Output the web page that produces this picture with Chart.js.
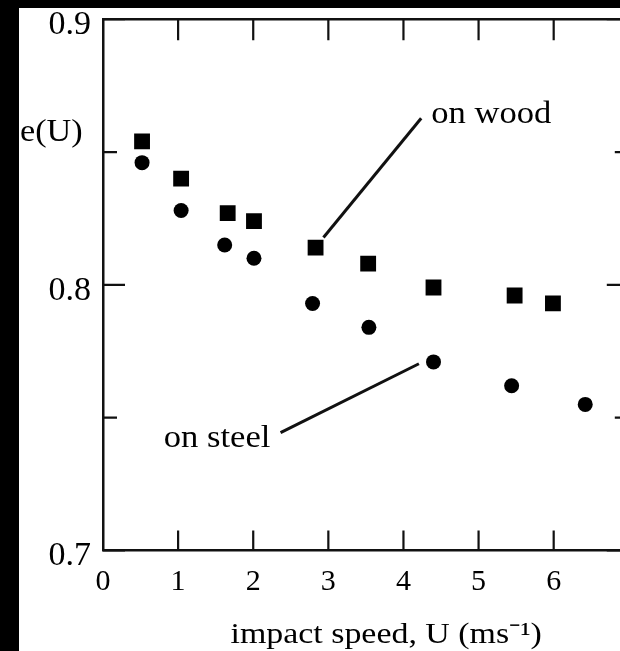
<!DOCTYPE html>
<html>
<head>
<meta charset="utf-8">
<script src="https://cdn.jsdelivr.net/npm/chart.js@4.4.1/dist/chart.umd.min.js"></script>
<style>
  html, body { margin: 0; padding: 0; background: #000; overflow: hidden; width: 620px; height: 651px; }
  #wrap { position: absolute; left: 19px; top: 8px; width: 621px; height: 643px; background: #fff; }
</style>
</head>
<body>
<div id="wrap"><canvas id="resChart" width="621" height="643"></canvas></div>
<script>
// coefficient of restitution vs impact speed
const speedWood = [0.52, 1.04, 1.66, 2.01, 2.83, 3.53, 4.40, 5.48, 5.99];
const eWood = [0.854, 0.840, 0.827, 0.824, 0.814, 0.808, 0.799, 0.796, 0.793];
const speedSteel = [0.52, 1.04, 1.62, 2.01, 2.79, 3.54, 4.40, 5.44, 6.42];
const eSteel = [0.846, 0.828, 0.815, 0.810, 0.793, 0.784, 0.771, 0.762, 0.755];

const xTicks = [0, 1, 2, 3, 4, 5, 6];
const yTicks = [0.7, 0.8, 0.9];
const yMinorTicks = [0.75, 0.85];

const xTitle = 'impact speed, U (ms\u207B\u00B9)';
const yTitle = 'e(U)';

// leader labels (data coords)
const notes = [
    { text: 'on wood', at: [4.37, 0.861], line: [[2.935, 0.8178], [4.236, 0.8627]] },
    { text: 'on steel', at: [0.81, 0.739], line: [[4.206, 0.7703], [2.364, 0.7444]] }
];

const serif = "'Liberation Serif', 'Times New Roman', serif";

// scanned figure text is a bit wider than plain Times
function wideText(ctx, text, x, y, sx) {
    ctx.save();
    ctx.translate(x, y);
    ctx.scale(sx, 1);
    ctx.fillText(text, 0, 0);
    ctx.restore();
}

const extras = {
    id: 'extras',
    afterDraw(chart) {
        const { ctx, chartArea: a, scales: { x, y } } = chart;
        ctx.save();
        ctx.strokeStyle = '#111';
        ctx.lineCap = 'butt';

        // top + right frame
        ctx.lineWidth = 2.5;
        ctx.beginPath();
        ctx.moveTo(a.left, a.top);
        ctx.lineTo(a.right, a.top);
        ctx.lineTo(a.right, a.bottom);
        ctx.stroke();

        // inward ticks
        ctx.lineWidth = 2.2;
        ctx.beginPath();
        xTicks.slice(1).forEach(v => {
            const px = x.getPixelForValue(v);
            ctx.moveTo(px, a.bottom); ctx.lineTo(px, a.bottom - 20);
            ctx.moveTo(px, a.top); ctx.lineTo(px, a.top + 21);
        });
        yTicks.forEach(v => {
            const py = y.getPixelForValue(v);
            ctx.moveTo(a.left, py); ctx.lineTo(a.left + 22, py);
            ctx.moveTo(a.right, py); ctx.lineTo(a.right - 22, py);
        });
        yMinorTicks.forEach(v => {
            const py = y.getPixelForValue(v);
            ctx.moveTo(a.left, py); ctx.lineTo(a.left + 14, py);
            ctx.moveTo(a.right, py); ctx.lineTo(a.right - 14, py);
        });
        ctx.stroke();

        // leader lines + labels
        ctx.lineWidth = 3;
        ctx.fillStyle = '#000';
        ctx.font = '32px ' + serif;
        ctx.textBaseline = 'alphabetic';
        ctx.textAlign = 'left';
        notes.forEach(n => {
            ctx.beginPath();
            ctx.moveTo(x.getPixelForValue(n.line[0][0]), y.getPixelForValue(n.line[0][1]));
            ctx.lineTo(x.getPixelForValue(n.line[1][0]), y.getPixelForValue(n.line[1][1]));
            ctx.stroke();
            wideText(ctx, n.text, x.getPixelForValue(n.at[0]), y.getPixelForValue(n.at[1]), 1.08);
        });

        // axis titles
        ctx.font = '30px ' + serif;
        ctx.textAlign = 'center';
        wideText(ctx, xTitle, x.getPixelForValue(3.77), 635, 1.13);
        ctx.textAlign = 'left';
        ctx.font = '32px ' + serif;
        wideText(ctx, yTitle, 1, 133, 1.07);
        ctx.restore();
    }
};

document.addEventListener('DOMContentLoaded', () => {
    const ctx = document.getElementById('resChart');
    new Chart(ctx, {
        type: 'scatter',
        data: {
            datasets: [{
                label: 'on wood',
                data: speedWood.map((s, i) => ({ x: s, y: eWood[i] })),
                pointStyle: 'rect',
                pointRadius: 11.2,
                backgroundColor: '#000',
                borderWidth: 0
            },
            {
                label: 'on steel',
                data: speedSteel.map((s, i) => ({ x: s, y: eSteel[i] })),
                pointStyle: 'circle',
                pointRadius: 7.5,
                backgroundColor: '#000',
                borderWidth: 0
            }]
        },
        options: {
            responsive: false,
            animation: false,
            devicePixelRatio: 1,
            events: [],
            layout: { padding: { left: 0, top: 8.5, right: 9, bottom: 0 } },
            plugins: {
                legend: { display: false },
                tooltip: { enabled: false }
            },
            scales: {
                x: {
                    type: 'linear',
                    min: 0,
                    max: 7,
                    afterBuildTicks: s => { s.ticks = xTicks.map(v => ({ value: v })); },
                    afterFit: s => { s.height = 100.5; s.paddingLeft = 0; s.paddingRight = 0; },
                    grid: { display: false, drawTicks: false },
                    border: { display: true, color: '#111', width: 2.5 },
                    ticks: {
                        color: '#000',
                        padding: 14,
                        maxRotation: 0,
                        font: { family: serif, size: 30 }
                    }
                },
                y: {
                    type: 'linear',
                    min: 0.7,
                    max: 0.9,
                    afterBuildTicks: s => { s.ticks = yTicks.map(v => ({ value: v })); },
                    afterFit: s => { s.width = 84; s.paddingTop = 0; s.paddingBottom = 0; },
                    grid: { display: false, drawTicks: false },
                    border: { display: true, color: '#111', width: 2.5 },
                    ticks: {
                        color: '#000',
                        padding: 12,
                        labelOffset: 6,
                        font: { family: serif, size: 34 },
                        callback: v => v.toFixed(1)
                    }
                }
            }
        },
        plugins: [extras]
    });
});
</script>
</body>
</html>
